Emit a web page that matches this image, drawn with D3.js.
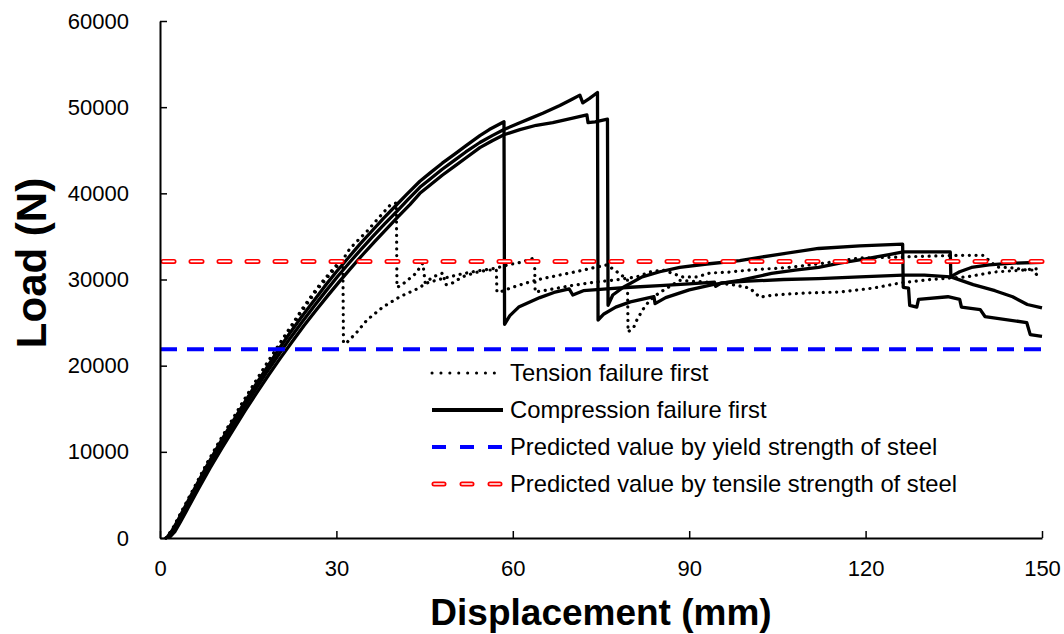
<!DOCTYPE html>
<html>
<head>
<meta charset="utf-8">
<script src="https://cdn.jsdelivr.net/npm/d3@7"></script>
<style>
  body { margin: 0; background: #fff; }
  svg { font-family: Arial, "Liberation Sans", sans-serif; }
</style>
</head>
<body>
<div id="chart"></div>
<script>
// chart size
var svgWidth = 1064;
var svgHeight = 634;

// plot area (pixels)
var margin = { top: 21, right: 22, bottom: 96, left: 160 };
var chartWidth = svgWidth - margin.left - margin.right;
var chartHeight = svgHeight - margin.top - margin.bottom;

// axis ticks
var xTicks = [0, 30, 60, 90, 120, 150];
var yTicks = [0, 10000, 20000, 30000, 40000, 50000, 60000];

// predicted loads (N)
var yieldLoad = 21900;
var tensileLoad = 32100;

// tension failure first specimens [displacement mm, load N]
var tension1 = [
  [1,0],[2,900],[3,2200],[4,3500],[6,6100],[8,8700],[10,11100],[12,13400],[14,15700],[16,17900],[18,20100],[20,22200],[22,24300],[24.3,26700],[26.7,29000],[28.9,30800],[31.1,32500],
  [31.2,22600],[31.8,22700],[33.5,23900],[35.2,25300],[37.9,26800],[40.8,28000],[43.7,28900],[45.4,29600],[48,30100],[51,30600],[54,31000],[57,31300],[59.2,31700],[61.4,32000],[63.7,32500],
  [63.8,28550],[66,28800],[70,29300],[74,29700],[78,30000],[81.1,30300],[83.3,30870],[85.5,31100],[88.9,30300],[91.3,30300],[93.5,30750],[96.9,30870],[100.3,31100],[107,31400],[113,31900],[119,32500],[125.3,32600],[130,32700],[135.5,32800],[140,32800],[142.3,31450],[145,31350],[147.4,31100],[148.5,31100],[149.7,30000]
];
var tension2 = [
  [1,0],[2,850],[3,2100],[4,3400],[6,6000],[8,8600],[10,11000],[12,13300],[14,15600],[16,17800],[18,19900],[20,22000],[22,24100],[24.3,26500],[26.7,28800],[28.9,30600],[31.1,32300],[32.3,33600],[35.2,35600],[37.9,37700],[39.1,38600],[40.2,38900],
  [40.3,29100],[41,29300],[43.5,30700],[44.7,31900],[45.1,29600],[46.4,30300],[48.1,30750],[48.6,29400],[49.5,29500],[51.4,30300],[53.6,30800],[55.7,31100],[57.2,31100],
  [57.3,28550],[58,28600],[60,29100],[62.3,29600],[65,30100],[70,30800],[74,31400],[76,31700],[77.5,31000],[79.5,30000],
  [79.6,23900],[80.6,24500],[81.1,25300],[82.1,26500],[83.3,27600],[85,28500],[88.4,29900],[93,29700],[97.4,29400],[100.3,29000],[102,27950],[104.3,28200],[110,28450],[115.6,28550],[121.3,29000],[125.9,29600],[130.4,29950],[133.8,30150],[137.2,30300],[141.7,30850],[146.8,31100],[150,31300]
];

// compression failure first specimens
var compression1 = [
  [1.1,0],[2,800],[3,2000],[4,3300],[6,5900],[8,8400],[10,10800],[12,13100],[14,15300],[16,17500],[18,19600],[20,21700],[22,23700],[24,25600],[26,27400],[28,29200],[30,30900],[32,32500],[34,34100],[36,35600],[38,37100],[40,38500],[42,39900],[44.2,41400],[46,42400],[48,43500],[50,44500],[52,45500],[54.4,46700],[56,47400],[58.5,48300],
  [58.6,24800],[59.5,25800],[61,26800],[64.6,27900],[67,28500],[69.6,28900],[70.2,28200],[72,28700],[76,28900],[80,29100],[85,29300],[90,29500],[94.3,29700],[94.5,29200],[95.5,29600],[100,29800],[106,30000],[112,30100],[119,30300],[126.4,30500],[130,30500],[134.4,30300],[136,30900],[138,31400],[141,31700],[145,31900],[150,32000]
];
var compression2 = [
  [1.3,0],[2.2,750],[3.2,1950],[4.2,3250],[6.2,5800],[8.2,8250],[10.2,10600],[12.2,12850],[14.2,15050],[16.2,17200],[18.2,19300],[20.2,21300],[22.2,23250],[24.2,25100],[26.2,26900],[28.2,28650],[30.2,30350],[32.2,31950],[34.2,33500],[36.2,35000],[38.2,36450],[40.2,37850],[42.2,39300],[44.2,40700],[46,41700],[48,42800],[50,43800],[52,44800],[54.4,45900],[56.5,46700],[58.5,47400],[61.2,48200],[63,48700],[65.1,49300],[68,50200],[70,50900],[71.4,51400],[71.9,50500],[73,51000],[74.4,51700],
  [74.5,25300],[75.5,26000],[77.5,26800],[80,27400],[84,28000],[84.2,27200],[86,27900],[90,28800],[94,29400],[98.6,29900],[104,30700],[108,31100],[112,31400],[115.6,31900],[120,32400],[124,32900],[126.4,33200],[134.4,33200],
  [134.5,30300],[138.3,29400],[142,28700],[145,28000],[147.5,27100],[150,26700]
];
var compression3 = [
  [1.5,0],[2.5,700],[3.5,1900],[4.5,3150],[6.5,5650],[8.5,8100],[10.5,10400],[12.5,12600],[14.5,14800],[16.5,16900],[18.5,18950],[20.5,20900],[22.5,22800],[24.5,24650],[26.5,26400],[28.5,28100],[30.5,29750],[32.5,31350],[34.5,32900],[36.5,34400],[38.5,35850],[40.5,37300],[42.5,38700],[44.2,40000],[46,41000],[48,42100],[50,43100],[52,44100],[54.4,45300],[56.5,46100],[58.5,46800],[61.2,47400],[64,47900],[66.8,48200],[70,48700],[72.6,49100],[72.8,48200],[74,48300],[76.1,48600],
  [76.2,27000],[77,28200],[78.8,29100],[82,30300],[85,30900],[88.4,31400],[93,31800],[98.6,32200],[105,32900],[112,33600],[119,33900],[126.3,34100],
  [126.4,29100],[127.3,29000],[127.5,27000],[128.7,26800],[129,27700],[134,28000],[136,27700],[136.3,26800],[139.5,26500],[140.3,25700],[147.4,25000],[148,23600],[150,23400]
];

var legendLabels = [
  "Tension failure first",
  "Compression failure first",
  "Predicted value by yield strength of steel",
  "Predicted value by tensile strength of steel"
];

var svg = d3.select("#chart")
  .append("svg")
  .attr("width", svgWidth)
  .attr("height", svgHeight);

var chartGroup = svg.append("g")
  .attr("transform", `translate(${margin.left}, ${margin.top})`);

// scales
var xScale = d3.scaleLinear().domain([0, 150]).range([0, chartWidth]);
var yScale = d3.scaleLinear().domain([0, 60000]).range([chartHeight, 0]);

var line = d3.line()
  .x(d => xScale(d[0]))
  .y(d => yScale(d[1]));

// dotted curves
[tension1, tension2].forEach(function(s) {
  chartGroup.append("path")
    .attr("d", line(s))
    .attr("fill", "none")
    .attr("stroke", "#000")
    .attr("stroke-width", 3.2)
    .attr("stroke-linecap", "round")
    .attr("stroke-dasharray", "0.1 6.6");
});

// solid curves
[compression1, compression2, compression3].forEach(function(s) {
  chartGroup.append("path")
    .attr("d", line(s))
    .attr("fill", "none")
    .attr("stroke", "#000")
    .attr("stroke-width", 3.3)
    .attr("stroke-linejoin", "round");
});

// yield strength line (blue dashed)
chartGroup.append("line")
  .attr("x1", xScale(0)).attr("x2", xScale(150))
  .attr("y1", yScale(yieldLoad)).attr("y2", yScale(yieldLoad))
  .attr("stroke", "#0000ff")
  .attr("stroke-width", 4)
  .attr("stroke-dasharray", "17 10");

// tensile strength line (hollow red dashes)
[["#ff0000", 5], ["#fff", 1.6]].forEach(function(st) {
  chartGroup.append("line")
    .attr("x1", xScale(0) + 3).attr("x2", xScale(150))
    .attr("y1", yScale(tensileLoad)).attr("y2", yScale(tensileLoad))
    .attr("stroke", st[0])
    .attr("stroke-width", st[1])
    .attr("stroke-linecap", "round")
    .attr("stroke-dasharray", "11 17");
});

// axes
var bottomAxis = d3.axisBottom(xScale)
  .tickValues(xTicks)
  .tickFormat(d3.format("d"))
  .tickSizeInner(-7)
  .tickSizeOuter(0)
  .tickPadding(22);
var leftAxis = d3.axisLeft(yScale)
  .tickValues(yTicks)
  .tickFormat(d3.format("d"))
  .tickSizeInner(-7)
  .tickSizeOuter(0)
  .tickPadding(31);

var xAxisG = chartGroup.append("g")
  .attr("transform", `translate(0, ${chartHeight})`)
  .call(bottomAxis);
var yAxisG = chartGroup.append("g")
  .call(leftAxis);

[xAxisG, yAxisG].forEach(function(g) {
  g.select(".domain").attr("stroke", "#000").attr("stroke-width", 2);
  g.selectAll(".tick line").attr("stroke", "#000").attr("stroke-width", 1.5);
  g.selectAll(".tick text")
    .attr("fill", "#000")
    .style("font-size", "22px")
    .style("font-family", "Arial, 'Liberation Sans', sans-serif");
});

// axis titles
svg.append("text")
  .attr("x", 601)
  .attr("y", 625)
  .attr("text-anchor", "middle")
  .style("font-size", "37px")
  .style("font-weight", "bold")
  .text("Displacement (mm)");

svg.append("text")
  .attr("transform", "translate(46, 263) rotate(-90)")
  .attr("text-anchor", "middle")
  .style("font-size", "42px")
  .style("font-weight", "bold")
  .text("Load (N)");

// legend
var legendRows = [373, 410, 447, 484];
var legendX1 = 432, legendX2 = 503;
var legend = svg.append("g");

legend.append("line")
  .attr("x1", legendX1).attr("x2", legendX2)
  .attr("y1", legendRows[0]).attr("y2", legendRows[0])
  .attr("stroke", "#000").attr("stroke-width", 3)
  .attr("stroke-linecap", "round")
  .attr("stroke-dasharray", "0.1 8.8");
legend.append("line")
  .attr("x1", legendX1).attr("x2", legendX2)
  .attr("y1", legendRows[1]).attr("y2", legendRows[1])
  .attr("stroke", "#000").attr("stroke-width", 4);
legend.append("line")
  .attr("x1", legendX1).attr("x2", legendX2)
  .attr("y1", legendRows[2]).attr("y2", legendRows[2])
  .attr("stroke", "#0000ff").attr("stroke-width", 4)
  .attr("stroke-dasharray", "14 14");
[["#ff0000", 5], ["#fff", 1.6]].forEach(function(st) {
  legend.append("line")
    .attr("x1", legendX1 + 2).attr("x2", legendX2)
    .attr("y1", legendRows[3]).attr("y2", legendRows[3])
    .attr("stroke", st[0]).attr("stroke-width", st[1])
    .attr("stroke-linecap", "round")
    .attr("stroke-dasharray", "10 18");
});

legend.selectAll(".legend-text")
  .data(legendLabels)
  .enter()
  .append("text")
  .attr("class", "legend-text")
  .attr("x", 510)
  .attr("y", (d, i) => legendRows[i] + 8)
  .style("font-size", "23.8px")
  .text(d => d);
</script>
</body>
</html>
